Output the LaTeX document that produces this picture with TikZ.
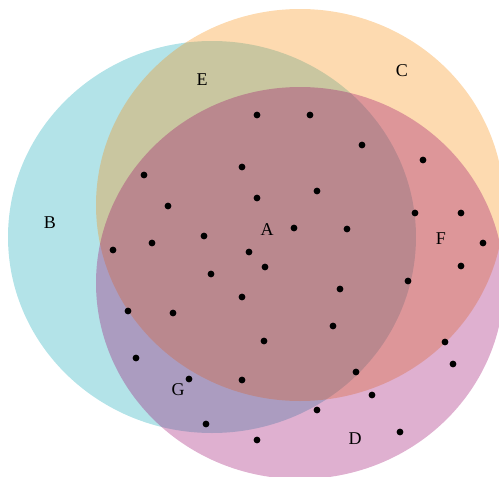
\documentclass[tikz,border=0pt]{standalone}
\usepackage{fontspec}
\setmainfont{Liberation Serif}
\usepackage{tikz}
\definecolor{setB}{RGB}{18,168,183}
\definecolor{setC}{RGB}{249,139,8}
\definecolor{setD}{RGB}{155,8,108}
\def\rx{204}
\def\ry{196}
\def\dotR{3.4pt}
\begin{document}
\begin{tikzpicture}[
    x=1pt, y=-1pt,
    setfill/.style={fill=#1, fill opacity=0.32},
    region/.style={inner sep=0pt, font=\fontsize{18}{18}\selectfont}
]
\useasboundingbox (0,0) rectangle (499,477);
% the three sets
\fill[setfill=setB] (212,237) ellipse [x radius=\rx, y radius=\ry];
\fill[setfill=setC] (300,205) ellipse [x radius=\rx, y radius=\ry];
\fill[setfill=setD] (300,283) ellipse [x radius=\rx, y radius=\ry];
% region labels
\node[region] (A) at (267,230) {A};
\node[region] (B) at (50,223) {B};
\node[region] (C) at (402,71) {C};
\node[region] (D) at (355,439) {D};
\node[region] (E) at (202,80) {E};
\node[region] (F) at (441,239) {F};
\node[region] (G) at (178,390) {G};
% points
\foreach \px/\py in {257/115, 310/115, 362/145, 423/160, 242/167, 144/175,
    317/191, 257/198, 168/206, 415/213, 461/213, 294/228, 347/229, 204/236,
    152/243, 483/243, 113/250, 249/252, 265/267, 461/266, 211/274, 408/281,
    340/289, 242/297, 128/311, 173/313, 333/326, 264/341, 445/342, 136/358,
    453/364, 356/372, 189/379, 242/380, 372/395, 317/410, 206/424, 400/432,
    257/440}
    \fill (\px,\py) circle [radius=\dotR];
\end{tikzpicture}
\end{document}
